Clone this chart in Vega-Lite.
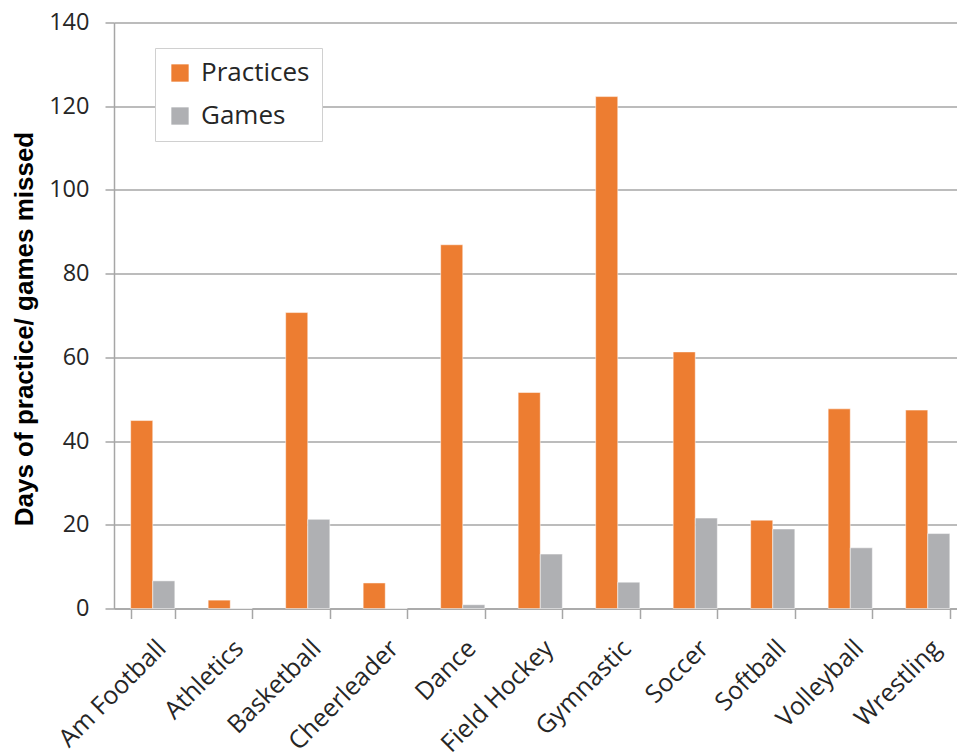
{
  "$schema": "https://vega.github.io/schema/vega-lite/v6.json",
  "autosize": {"type": "none"},
  "padding": {"left": 114, "top": 22.5, "right": 0, "bottom": 146.5},
  "width": 843,
  "height": 586,
  "background": "white",
  "config": {
    "font": "Open Sans",
    "view": {"stroke": null},
    "axis": {"labelColor": "#262626", "domainColor": "#a6a6a6", "tickColor": "#a6a6a6", "gridColor": "#a6a6a6"}
  },
  "data": {
    "values": [
      {"sport": "Am Football", "type": "Practices", "days": 44.9},
      {"sport": "Am Football", "type": "Games", "days": 6.6},
      {"sport": "Athletics", "type": "Practices", "days": 2.0},
      {"sport": "Athletics", "type": "Games", "days": 0},
      {"sport": "Basketball", "type": "Practices", "days": 70.7},
      {"sport": "Basketball", "type": "Games", "days": 21.3},
      {"sport": "Cheerleader", "type": "Practices", "days": 6.1},
      {"sport": "Cheerleader", "type": "Games", "days": 0},
      {"sport": "Dance", "type": "Practices", "days": 86.9},
      {"sport": "Dance", "type": "Games", "days": 0.9},
      {"sport": "Field Hockey", "type": "Practices", "days": 51.6},
      {"sport": "Field Hockey", "type": "Games", "days": 13.0},
      {"sport": "Gymnastic", "type": "Practices", "days": 122.3},
      {"sport": "Gymnastic", "type": "Games", "days": 6.3},
      {"sport": "Soccer", "type": "Practices", "days": 61.3},
      {"sport": "Soccer", "type": "Games", "days": 21.6},
      {"sport": "Softball", "type": "Practices", "days": 21.1},
      {"sport": "Softball", "type": "Games", "days": 19.0},
      {"sport": "Volleyball", "type": "Practices", "days": 47.7},
      {"sport": "Volleyball", "type": "Games", "days": 14.5},
      {"sport": "Wrestling", "type": "Practices", "days": 47.4},
      {"sport": "Wrestling", "type": "Games", "days": 17.9}
    ]
  },
  "mark": {"type": "bar", "stroke": "white", "strokeWidth": 0.5},
  "encoding": {
    "x": {
      "field": "sport",
      "type": "nominal",
      "sort": null,
      "scale": {"range": [0, 852.5], "paddingInner": 0.43, "paddingOuter": 0.215},
      "axis": {
        "title": null,
        "labelAngle": -45,
        "labelFontSize": 25,
        "labelPadding": 17,
        "labelDx": 4,
        "tickBand": "extent",
        "tickSize": 10,
        "tickWidth": 1.5,
        "domainWidth": 1.5,
        "grid": false
      }
    },
    "xOffset": {"field": "type", "sort": ["Practices", "Games"]},
    "y": {
      "field": "days",
      "type": "quantitative",
      "scale": {"domain": [0, 140], "nice": false},
      "axis": {
        "title": "Days of practice/ games missed",
        "titleFont": "Liberation Sans",
        "titleFontSize": 26,
        "titleFontWeight": "bold",
        "titleColor": "#000000",
        "titleX": -90,
        "titleY": 306,
        "titleAngle": -90,
        "titleAlign": "center",
        "titleBaseline": "middle",
        "values": [0, 20, 40, 60, 80, 100, 120, 140],
        "labelFontSize": 23.5,
        "labelPadding": 16,
        "tickSize": 9,
        "tickWidth": 1.5,
        "domainWidth": 1.5,
        "gridWidth": 1.5
      }
    },
    "color": {
      "field": "type",
      "type": "nominal",
      "scale": {"domain": ["Practices", "Games"], "range": ["#ED7D31", "#AFB0B3"]},
      "legend": {
        "title": null,
        "orient": "none",
        "legendX": 41,
        "legendY": 25.5,
        "symbolType": "square",
        "symbolSize": 300,
        "symbolStrokeWidth": 0,
        "labelFontSize": 26,
        "labelColor": "#262626",
        "labelOffset": 8,
        "rowPadding": 17,
        "padding": 12,
        "strokeColor": "#d0d0d0",
        "fillColor": "white"
      }
    }
  }
}
